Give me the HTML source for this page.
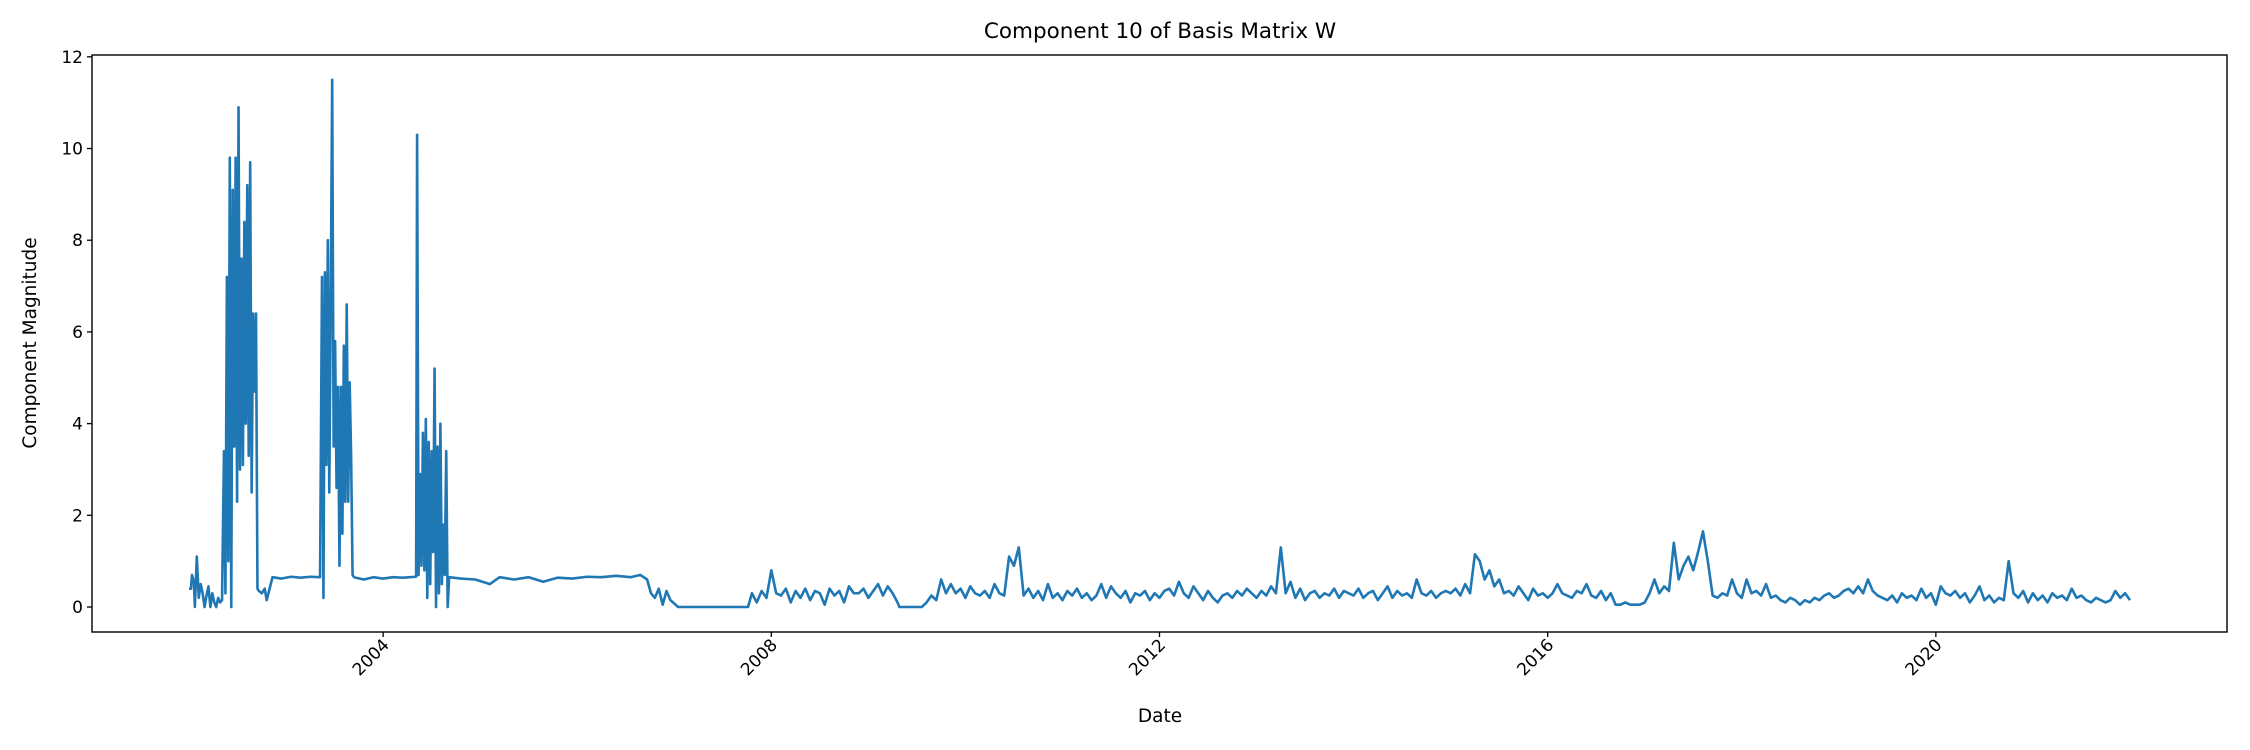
<!DOCTYPE html>
<html><head><meta charset="utf-8">
<style>
html,body{margin:0;padding:0;background:#fff;}
svg{display:block;font-family:"DejaVu Sans","Liberation Sans",sans-serif;}
</style></head>
<body>
<svg id="chart" width="2250" height="750" viewBox="0 0 2250 750" xmlns="http://www.w3.org/2000/svg">
<rect x="0" y="0" width="2250" height="750" fill="#fff"/>
<text x="1160" y="38" text-anchor="middle" font-size="21.5" fill="#000">Component 10 of Basis Matrix W</text>
<g id="plot"></g>
<text x="1160" y="722" text-anchor="middle" font-size="18.5" fill="#000">Date</text>
<text x="0" y="0" transform="translate(36,343) rotate(-90)" text-anchor="middle" font-size="18.5" fill="#000">Component Magnitude</text>
</svg>
<script>
const xTicks=[2004,2008,2012,2016,2020];
const yTicks=[0,2,4,6,8,10,12];
const dates=[
2002.00,2002.02,2002.03,2002.05,2002.06,2002.08,2002.10,2002.12,2002.14,2002.16,2002.18,2002.20,2002.22,2002.24,2002.26,2002.28,2002.30,2002.32,2002.34,
2002.36,2002.375,2002.39,2002.405,2002.42,2002.435,2002.45,2002.465,2002.48,2002.495,2002.51,2002.525,2002.54,2002.555,2002.57,2002.585,2002.60,2002.615,2002.63,2002.645,2002.66,2002.675,2002.69,2002.705,
2002.72,2002.75,2002.78,2002.80,2002.83,2002.86,2002.95,2003.05,2003.15,2003.25,2003.35,
2003.37,2003.385,2003.40,2003.415,2003.43,2003.445,2003.46,2003.475,2003.49,2003.505,2003.52,2003.535,2003.55,2003.565,2003.58,2003.595,2003.61,2003.625,2003.64,2003.655,2003.67,2003.685,
2003.70,2003.80,2003.90,2004.00,2004.10,2004.20,2004.34,
2004.35,2004.365,2004.38,2004.395,2004.41,2004.425,2004.44,2004.455,2004.47,2004.485,2004.50,2004.515,2004.53,2004.545,2004.56,2004.575,2004.59,2004.605,2004.62,2004.635,2004.65,2004.665,2004.68,
2004.80,2004.95,2005.10,2005.20,2005.35,2005.50,2005.65,2005.80,2005.95,2006.10,2006.25,2006.40,2006.55,2006.65,2006.72,2006.76,2006.80,2006.84,2006.88,2006.92,2006.96,2007.04,2007.76,
2007.80,2007.85,2007.90,2007.95,2008.00,2008.05,2008.10,2008.15,2008.20,2008.25,2008.30,2008.35,2008.40,2008.45,2008.50,2008.55,2008.60,2008.65,2008.70,2008.75,2008.80,2008.85,2008.90,2008.95,2009.00,2009.05,2009.10,2009.15,2009.20,2009.25,2009.30,
2009.32,2009.55,
2009.60,2009.65,2009.70,2009.75,2009.80,2009.85,2009.90,2009.95,
2010.00,2010.05,2010.10,2010.15,2010.20,2010.25,2010.30,2010.35,2010.40,2010.45,2010.50,2010.55,2010.60,2010.65,2010.70,2010.75,2010.80,2010.85,2010.90,2010.95,
2011.00,2011.05,2011.10,2011.15,2011.20,2011.25,2011.30,2011.35,2011.40,2011.45,2011.50,2011.55,2011.60,2011.65,2011.70,2011.75,2011.80,2011.85,2011.90,2011.95,
2012.00,2012.05,2012.10,2012.15,2012.20,2012.25,2012.30,2012.35,2012.40,2012.45,2012.50,2012.55,2012.60,2012.65,2012.70,2012.75,2012.80,2012.85,2012.90,2012.95,
2013.00,2013.05,2013.10,2013.15,2013.20,2013.25,2013.30,2013.35,2013.40,2013.45,2013.50,2013.55,2013.60,2013.65,2013.70,2013.75,2013.80,2013.85,2013.90,2013.95,
2014.00,2014.05,2014.10,2014.15,2014.20,2014.25,2014.30,2014.35,2014.40,2014.45,2014.50,2014.55,2014.60,2014.65,2014.70,2014.75,2014.80,2014.85,2014.90,2014.95,
2015.00,2015.05,2015.10,2015.15,2015.20,2015.25,2015.30,2015.35,2015.40,2015.45,2015.50,2015.55,2015.60,2015.65,2015.70,2015.75,2015.80,2015.85,2015.90,2015.95,
2016.00,2016.05,2016.10,2016.15,2016.20,2016.25,2016.30,2016.35,2016.40,2016.45,2016.50,2016.55,2016.60,2016.65,2016.70,2016.75,2016.80,2016.85,2016.90,2016.95,
2017.00,2017.05,2017.10,2017.15,2017.20,2017.25,2017.30,2017.35,2017.40,2017.45,2017.50,2017.55,2017.60,2017.65,2017.70,2017.75,2017.80,2017.85,2017.90,2017.95,
2018.00,2018.05,2018.10,2018.15,2018.20,2018.25,2018.30,2018.35,2018.40,2018.45,2018.50,2018.55,2018.60,2018.65,2018.70,2018.75,2018.80,2018.85,2018.90,2018.95,
2019.00,2019.05,2019.10,2019.15,2019.20,2019.25,2019.30,2019.35,2019.40,2019.45,2019.50,2019.55,2019.60,2019.65,2019.70,2019.75,2019.80,2019.85,2019.90,2019.95,
2020.00,2020.05,2020.10,2020.15,2020.20,2020.25,2020.30,2020.35,2020.40,2020.45,2020.50,2020.55,2020.60,2020.65,2020.70,2020.75,2020.80,2020.85,2020.90,2020.95,
2021.00,2021.05,2021.10,2021.15,2021.20,2021.25,2021.30,2021.35,2021.40,2021.45,2021.50,2021.55,2021.60,2021.65,2021.70,2021.75,2021.80,2021.85,2021.90,2021.95,
2022.00];
const values=[
0.4,0.4,0.7,0.55,0.0,1.1,0.2,0.5,0.3,0.0,0.25,0.45,0.0,0.3,0.1,0.0,0.2,0.1,0.15,
3.4,0.3,7.2,1.0,9.8,0.0,9.1,3.5,9.8,2.3,10.9,3.0,7.6,3.1,8.4,4.0,9.2,3.3,9.7,2.5,6.4,4.7,6.4,0.4,
0.35,0.3,0.4,0.15,0.4,0.65,0.62,0.66,0.64,0.66,0.65,
7.2,0.2,7.3,3.1,8.0,2.5,6.7,11.5,3.5,5.8,2.6,4.8,0.9,4.8,1.6,5.7,2.3,6.6,2.3,4.9,3.3,0.7,
0.65,0.6,0.65,0.62,0.65,0.64,0.66,
10.3,0.7,2.9,0.9,3.8,0.8,4.1,0.2,3.6,0.5,3.4,1.2,5.2,0.0,3.5,0.3,4.0,0.5,1.8,0.7,3.4,0.0,0.65,
0.62,0.6,0.5,0.65,0.6,0.65,0.55,0.64,0.62,0.66,0.65,0.68,0.65,0.7,0.6,0.3,0.2,0.4,0.05,0.35,0.15,0.0,0.0,
0.3,0.1,0.35,0.2,0.8,0.3,0.25,0.4,0.1,0.35,0.2,0.4,0.15,0.35,0.3,0.05,0.4,0.25,0.35,0.1,0.45,0.3,0.3,0.4,0.2,0.35,0.5,0.25,0.45,0.3,0.1,
0.0,0.0,
0.1,0.25,0.15,0.6,0.3,0.5,0.3,0.4,
0.2,0.45,0.3,0.25,0.35,0.2,0.5,0.3,0.25,1.1,0.9,1.3,0.25,0.4,0.2,0.35,0.15,0.5,0.2,0.3,
0.15,0.35,0.25,0.4,0.2,0.3,0.15,0.25,0.5,0.2,0.45,0.3,0.2,0.35,0.1,0.3,0.25,0.35,0.15,0.3,
0.2,0.35,0.4,0.25,0.55,0.3,0.2,0.45,0.3,0.15,0.35,0.2,0.1,0.25,0.3,0.2,0.35,0.25,0.4,0.3,
0.2,0.35,0.25,0.45,0.3,1.3,0.3,0.55,0.2,0.4,0.15,0.3,0.35,0.2,0.3,0.25,0.4,0.2,0.35,0.3,
0.25,0.4,0.2,0.3,0.35,0.15,0.3,0.45,0.2,0.35,0.25,0.3,0.2,0.6,0.3,0.25,0.35,0.2,0.3,0.35,
0.3,0.4,0.25,0.5,0.3,1.15,1.0,0.6,0.8,0.45,0.6,0.3,0.35,0.25,0.45,0.3,0.15,0.4,0.25,0.3,
0.2,0.3,0.5,0.3,0.25,0.2,0.35,0.3,0.5,0.25,0.2,0.35,0.15,0.3,0.05,0.05,0.1,0.05,0.05,0.05,
0.1,0.3,0.6,0.3,0.45,0.35,1.4,0.6,0.9,1.1,0.8,1.2,1.65,1.0,0.25,0.2,0.3,0.25,0.6,0.3,
0.2,0.6,0.3,0.35,0.25,0.5,0.2,0.25,0.15,0.1,0.2,0.15,0.05,0.15,0.1,0.2,0.15,0.25,0.3,0.2,
0.25,0.35,0.4,0.3,0.45,0.3,0.6,0.35,0.25,0.2,0.15,0.25,0.1,0.3,0.2,0.25,0.15,0.4,0.2,0.3,
0.05,0.45,0.3,0.25,0.35,0.2,0.3,0.1,0.25,0.45,0.15,0.25,0.1,0.2,0.15,1.0,0.3,0.2,0.35,0.1,
0.3,0.15,0.25,0.1,0.3,0.2,0.25,0.15,0.4,0.2,0.25,0.15,0.1,0.2,0.15,0.1,0.15,0.35,0.2,0.3,
0.15];

const NS='http://www.w3.org/2000/svg';
const L=92,R=2227,T=55,B=632;
const X0=2001,X1=2023,Y0=-0.545,Y1=12.04;
function xs(v){return L+(v-X0)/(X1-X0)*(R-L);}
function ys(v){return B-(v-Y0)/(Y1-Y0)*(B-T);}
const plot=document.getElementById('plot');
function mk(tag,attrs){const e=document.createElementNS(NS,tag);for(const k in attrs)e.setAttribute(k,attrs[k]);plot.appendChild(e);return e;}

let d='';
for(let i=0;i<dates.length;i++){d+=(i?'L':'M')+xs(dates[i]).toFixed(2)+' '+ys(values[i]).toFixed(2);}
const line=mk('path',{d:d,fill:'none',stroke:'#1f77b4','stroke-width':2.6,'stroke-linejoin':'round'});



const frame=mk('rect',{x:L,y:T,width:R-L,height:B-T,fill:'none',stroke:'#000','stroke-width':1.4});



yTicks.forEach(v=>{
  const y=ys(v);
  const t=mk('line',{x1:L-5,x2:L,y1:y,y2:y,stroke:'#000','stroke-width':1.3});
  
  
  const lb=mk('text',{x:L-9,y:y+6,'text-anchor':'end','font-size':17,fill:'#000'});
  lb.textContent=v;
  
  
});
xTicks.forEach(v=>{
  const x=xs(v);
  const t=mk('line',{x1:x,x2:x,y1:B,y2:B+5,stroke:'#000','stroke-width':1.3});
  
  
  const lb=mk('text',{x:0,y:0,'text-anchor':'end','font-size':17,fill:'#000',transform:'translate('+(x+7)+','+(B+14)+') rotate(-45)'});
  lb.textContent=v;
  
  
});
</script>
</body></html>
